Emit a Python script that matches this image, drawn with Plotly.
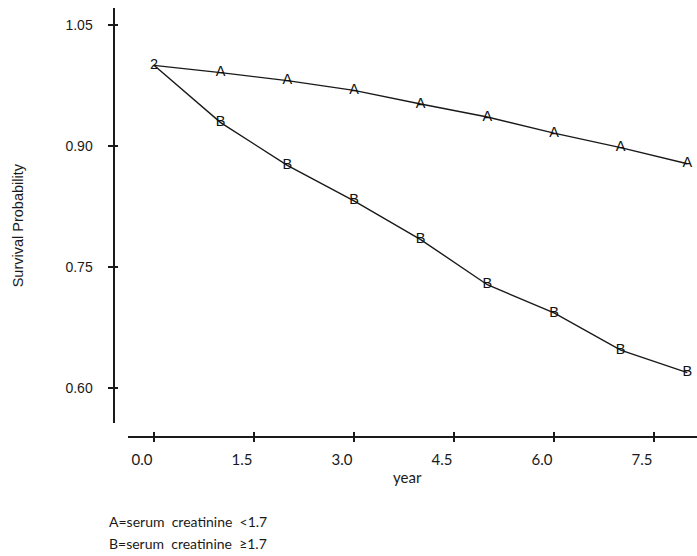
import plotly.graph_objects as go

years = [0, 1, 2, 3, 4, 5, 6, 7, 8]
surv_A = [1.000, 0.991, 0.981, 0.969, 0.952, 0.936, 0.916, 0.898, 0.878]
surv_B = [1.000, 0.929, 0.876, 0.832, 0.784, 0.728, 0.693, 0.647, 0.619]
x_ticks = [0.0, 1.5, 3.0, 4.5, 6.0, 7.5]
x_tick_labels = ["0.0", "1.5", "3.0", "4.5", "6.0", "7.5"]
y_ticks = [0.60, 0.75, 0.90, 1.05]
y_tick_labels = ["0.60", "0.75", "0.90", "1.05"]
legend_lines = ["A=serum  creatinine  <1.7", "B=serum  creatinine  \u22651.7"]

W, H = 697, 556
INK = "#1a1a1a"

# plotting symbols: '2' where both groups overlap
labels_A = ["" if a == b else "A" for a, b in zip(surv_A, surv_B)]
labels_B = ["2" if a == b else "B" for a, b in zip(surv_A, surv_B)]

fig = go.Figure()
for ys, labs in [(surv_A, labels_A), (surv_B, labels_B)]:
    fig.add_trace(go.Scatter(
        x=years, y=ys, mode="lines+text", text=labs,
        textposition="middle center",
        textfont=dict(family="Liberation Sans, Arial", size=14.5, color="#111111"),
        line=dict(color=INK, width=1.4),
        cliponaxis=False, showlegend=False, hoverinfo="skip"))

# pixel geometry
x_left_px, x_zero_px, px_per_year = 128.3, 154.0, 66.667
y_top_px, y_bot_px, y105_px, px_per_unit = 8.0, 423.0, 25.0, 806.67
xr = [(x_left_px - x_zero_px) / px_per_year, (W - x_zero_px) / px_per_year]
yr = [1.05 - (y_bot_px - y105_px) / px_per_unit, 1.05 + (y105_px - y_top_px) / px_per_unit]
xaxis_pos = 1 - 436.7 / H
yaxis_pos = 113.5 / W
xdom = [x_left_px / W, 1.0]
ydom = [1 - y_bot_px / H, 1 - y_top_px / H]

axis_common = dict(showgrid=False, zeroline=False, linecolor=INK, tickcolor=INK, tickwidth=1.5)

fig.update_layout(
    width=W, height=H, margin=dict(l=0, r=0, t=0, b=0),
    paper_bgcolor="white", plot_bgcolor="white",
    xaxis=dict(domain=xdom, range=xr, anchor="free", position=xaxis_pos,
               tickvals=x_ticks, ticktext=x_tick_labels, ticks="outside", ticklen=4,
               showline=True, linewidth=2, ticklabelshift=-12, ticklabelstandoff=5,
               tickfont=dict(family="Lato, DejaVu Sans", size=15, color=INK),
               **axis_common),
    yaxis=dict(domain=ydom, range=yr, anchor="free", position=yaxis_pos,
               tickvals=y_ticks, ticktext=y_tick_labels, ticks="outside", ticklen=5,
               showline=True, linewidth=2, ticklabelstandoff=12,
               tickfont=dict(family="Liberation Sans, Arial", size=14, color=INK),
               **axis_common),
    xaxis2=dict(domain=xdom, range=xr, anchor="free", position=xaxis_pos, overlaying="x",
                tickvals=x_ticks, ticks="inside", ticklen=5, showline=False,
                showticklabels=False, **axis_common),
    yaxis2=dict(domain=ydom, range=yr, anchor="free", position=yaxis_pos, overlaying="y",
                tickvals=y_ticks, ticks="inside", ticklen=3, showline=False,
                showticklabels=False, **axis_common),
)
# dummy invisible trace to activate the overlay axes
fig.add_trace(go.Scatter(x=[None], y=[None], xaxis="x2", yaxis="y2", showlegend=False, hoverinfo="skip"))

fig.add_annotation(text="year", x=407 / W, y=1 - 477 / H, xref="paper", yref="paper",
                   xanchor="center", yanchor="middle", showarrow=False,
                   font=dict(family="Lato, DejaVu Sans", size=15, color=INK))
fig.add_annotation(text="Survival Probability", x=18.3 / W, y=1 - 225 / H, xref="paper", yref="paper",
                   xanchor="center", yanchor="middle", showarrow=False, textangle=-90,
                   font=dict(family="Liberation Sans, Arial", size=14.5, color=INK))
for i, t in enumerate(legend_lines):
    fig.add_annotation(text=t, x=107 / W, y=1 - (521.7 + 21.6 * i) / H, xref="paper", yref="paper",
                       xanchor="left", yanchor="middle", showarrow=False,
                       font=dict(family="Lato, DejaVu Sans", size=14, color=INK))

fig.write_html("out.html", config={"displayModeBar": False},
               post_script="document.body.style.margin='0px';")
